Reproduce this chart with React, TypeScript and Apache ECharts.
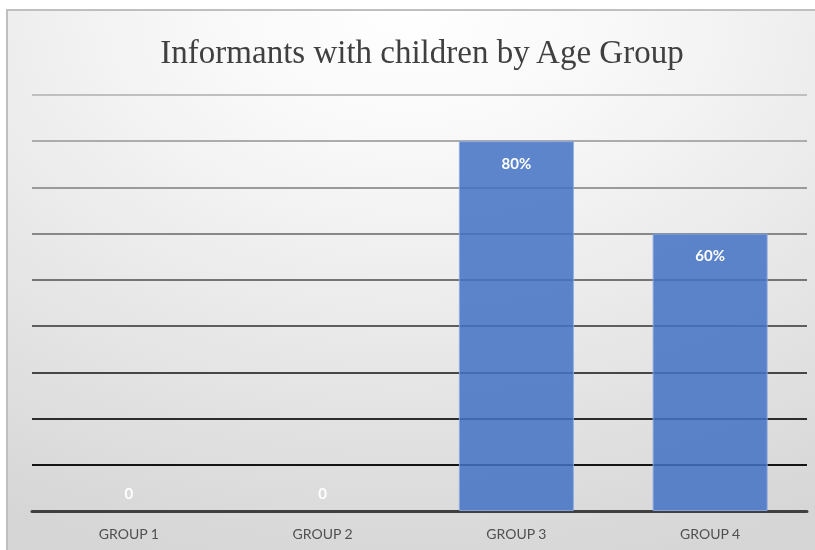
import React, { useEffect, useRef } from "react";
import * as echarts from "echarts";

const titleText = "Informants with children by Age Group";
const categories = ["GROUP 1", "GROUP 2", "GROUP 3", "GROUP 4"];
const values = [0, 0, 80, 60];
const yMax = 90;
const yInterval = 10;
// grid line colours from bottom (0) to top (90)
const gridColors = ["#404040", "#141414", "#2c2c2c", "#464646", "#5e5e5e", "#747474", "#888888", "#9a9a9a", "#acacac", "#bfbfbf"];

export default function App() {
  const ref = useRef<HTMLDivElement>(null);
  useEffect(() => {
    if (!ref.current) return;
    const chart = echarts.init(ref.current, null, { renderer: "svg" });
    const data = values.map((v) =>
      v === 0
        ? {
            value: v,
            itemStyle: { borderWidth: 0 },
            label: { position: "top", distance: 11 },
          }
        : { value: v }
    );
    chart.setOption({
      animation: false,
      graphic: [
        {
          type: "rect",
          z: -10,
          silent: true,
          shape: { x: 7, y: 10, width: 808, height: 540 },
          style: {
            fill: {
              type: "radial",
              x: 0.5,
              y: 0.0,
              r: 1.05,
              colorStops: [
                { offset: 0, color: "#ffffff" },
                { offset: 0.25, color: "#f8f8f8" },
                { offset: 1, color: "#d6d6d6" },
              ],
            },
          },
        },
        {
          type: "line",
          z: -9,
          silent: true,
          shape: { x1: 7, y1: 10, x2: 815, y2: 10 },
          style: { stroke: "#bfbfbf", lineWidth: 2 },
        },
        {
          type: "line",
          z: -9,
          silent: true,
          shape: { x1: 7, y1: 9, x2: 7, y2: 550 },
          style: { stroke: "#bfbfbf", lineWidth: 2 },
        },
      ],
      title: {
        text: titleText,
        left: 417,
        textAlign: "center",
        top: 30,
        textStyle: {
          fontFamily: "Liberation Serif",
          fontSize: 33,
          fontWeight: "normal",
          color: "#404040",
        },
      },
      grid: { left: 32, right: 8, top: 95, bottom: 39, containLabel: false },
      xAxis: {
        type: "category",
        data: categories,
        axisLine: { show: true, lineStyle: { color: "#404040", width: 3 } },
        axisTick: { show: false },
        axisLabel: {
          margin: 15,
          fontFamily: "Lato",
          fontSize: 14,
          color: "#505050",
        },
      },
      yAxis: {
        type: "value",
        min: 0,
        max: yMax,
        interval: yInterval,
        axisLine: { show: false },
        axisTick: { show: false },
        axisLabel: { show: false },
        splitLine: {
          show: true,
          lineStyle: { color: gridColors, width: 2 },
        },
      },
      series: [
        {
          type: "bar",
          data,
          barWidth: 115,
          itemStyle: {
            color: "rgba(68,114,196,0.86)",
            borderColor: "rgba(140,170,225,0.9)",
            borderWidth: 1,
          },
          label: {
            show: true,
            position: "insideTop",
            distance: 14,
            formatter: (p: any) => (p.value === 0 ? "0" : p.value + "%"),
            color: "#ffffff",
            fontFamily: "Lato",
            fontWeight: "bold",
            fontSize: 15,
          },
        },
      ],
    });
    return () => chart.dispose();
  }, []);
  return (
    <div
      ref={ref}
      style={{ position: "fixed", left: 0, top: 0, width: 815, height: 550 }}
    />
  );
}
